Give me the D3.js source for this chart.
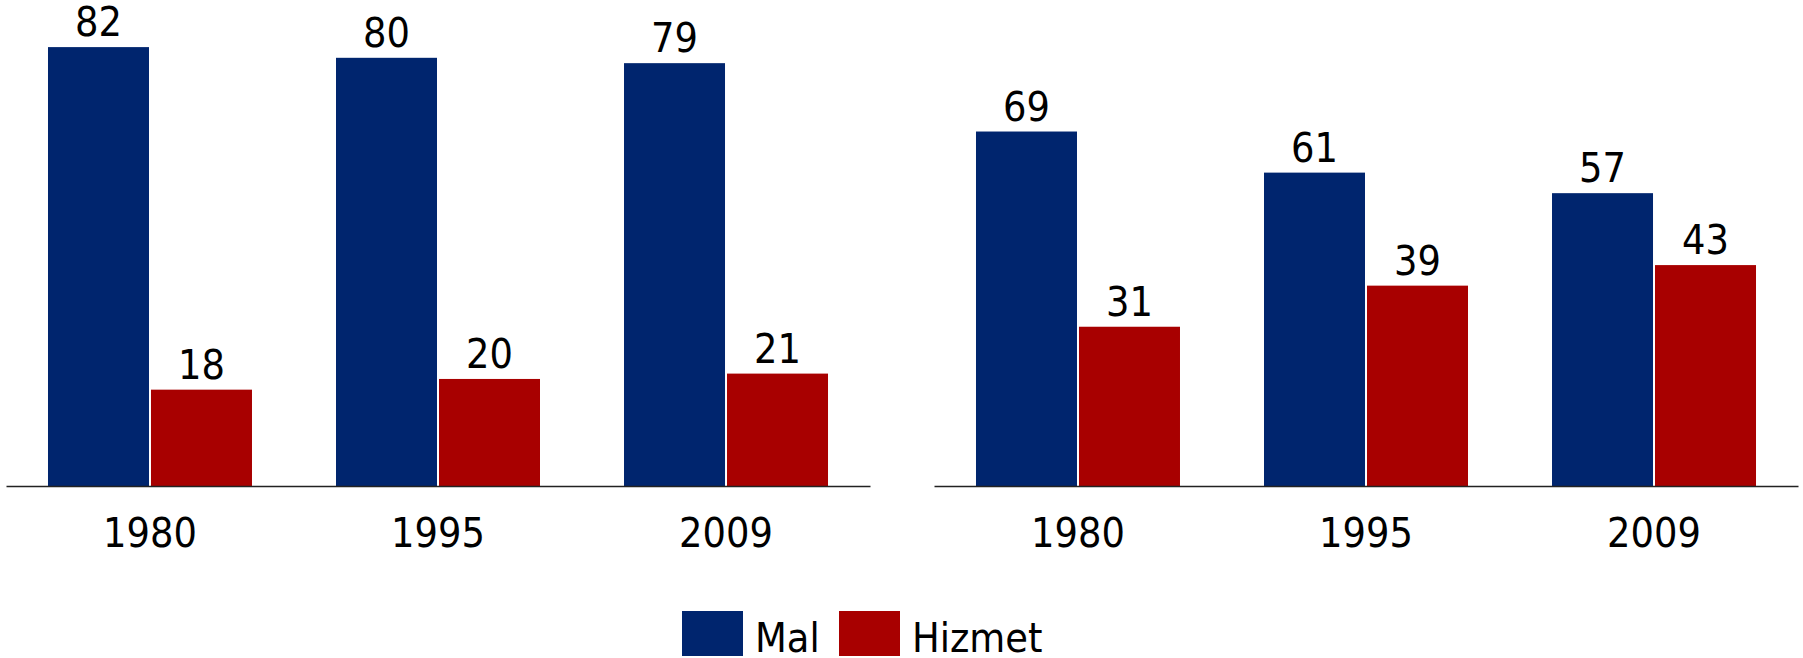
<!DOCTYPE html>
<html>
<head>
<meta charset="utf-8">
<script src="https://cdn.jsdelivr.net/npm/d3@7"></script>
<style>
  body { margin: 0; background: #fff; }
  svg text { font-family: "DejaVu Sans Condensed", "DejaVu Sans", sans-serif; font-stretch: condensed; fill: #000; }
</style>
</head>
<body>
<svg id="chart" width="1803" height="658"></svg>
<script>
// categories and series
var years = ["1980", "1995", "2009"];
var seriesNames = ["Mal", "Hizmet"];
var colors = ["#00256E", "#A80000"];

// left panel values (percent)
var leftMal = [82, 80, 79];
var leftHizmet = [18, 20, 21];
// right panel values (percent)
var rightMal = [69, 61, 57];
var rightHizmet = [31, 39, 43];

var svg = d3.select("#chart");
var baseY = 486;

// panel: x range of its axis, px-per-unit
var panels = [
    { x0: 6, x1: 870, ymax: 90.8, mal: leftMal, hiz: leftHizmet },
    { x0: 934, x1: 1798, ymax: 94.6, mal: rightMal, hiz: rightHizmet }
];

panels.forEach(function(p) {
    var g = svg.append("g");

    var x0 = d3.scaleBand().domain(years).range([p.x0, p.x1])
        .paddingInner(0.2917).paddingOuter(0.1458);
    var x1 = d3.scaleBand().domain(seriesNames).range([0, x0.bandwidth()])
        .paddingInner(0.0194);
    var y = d3.scaleLinear().domain([0, p.ymax]).range([baseY, 0]);

    var rows = years.map(function(yr, i) {
        return { year: yr, vals: [p.mal[i], p.hiz[i]] };
    });

    var grp = g.selectAll("g.grp").data(rows).enter().append("g")
        .attr("class", "grp")
        .attr("transform", function(d) { return "translate(" + x0(d.year) + ",0)"; });

    var cell = grp.selectAll("g.bar").data(function(d) {
        return d.vals.map(function(v, k) { return { s: seriesNames[k], v: v, k: k }; });
    }).enter().append("g").attr("class", "bar");

    cell.append("rect")
        .attr("x", function(d) { return x1(d.s); })
        .attr("y", function(d) { return y(d.v); })
        .attr("width", x1.bandwidth())
        .attr("height", function(d) { return baseY - y(d.v); })
        .attr("fill", function(d) { return colors[d.k]; });

    cell.append("text")
        .attr("x", function(d) { return x1(d.s) + x1.bandwidth() / 2; })
        .attr("y", function(d) { return y(d.v) - 11; })
        .attr("text-anchor", "middle")
        .style("font-size", "41px")
        .text(function(d) { return d.v; });

    // baseline axis, no ticks
    var axis = d3.axisBottom(x0).tickSize(0).tickPadding(0);
    var ax = g.append("g").attr("transform", "translate(0," + baseY + ")").call(axis);
    ax.select(".domain").attr("stroke", "#222").attr("stroke-width", 1.6);
    ax.selectAll(".tick text")
        .attr("y", 61)
        .attr("dy", null)
        .style("font-size", "41px")
        .style("font-family", null);
});

// legend
var legend = svg.append("g");
var legendItems = [
    { name: seriesNames[0], color: colors[0], x: 682, tx: 755 },
    { name: seriesNames[1], color: colors[1], x: 839, tx: 912 }
];
legend.selectAll("rect").data(legendItems).enter().append("rect")
    .attr("x", function(d) { return d.x; })
    .attr("y", 611)
    .attr("width", 61)
    .attr("height", 45)
    .attr("fill", function(d) { return d.color; });
legend.selectAll("text").data(legendItems).enter().append("text")
    .attr("x", function(d) { return d.tx; })
    .attr("y", 652)
    .style("font-size", "41px")
    .text(function(d) { return d.name; });
</script>
</body>
</html>
